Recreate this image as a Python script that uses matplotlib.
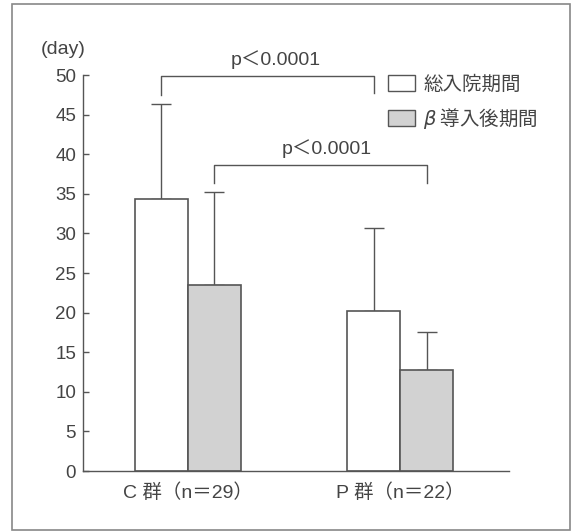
import matplotlib
matplotlib.use("Agg")
import matplotlib.pyplot as plt
from matplotlib.patches import Patch, Rectangle
import numpy as np

plt.rcParams['font.family'] = ['Liberation Sans', 'Noto Sans CJK JP', 'DejaVu Sans']

# data
groups = ['C 群（n＝29）', 'P 群（n＝22）']
series = ['総入院期間', '$\\mathit{\\beta}$ 導入後期間']
means = {
    '総入院期間': [34.3, 20.2],
    'β導入後期間': [23.5, 12.7],
}
upper_sd = {
    '総入院期間': [12.0, 10.5],
    'β導入後期間': [11.7, 4.8],
}
yticks = [0, 5, 10, 15, 20, 25, 30, 35, 40, 45, 50]
p_text = 'p＜0.0001'

line_c = '#555555'
text_c = '#444444'
fills = ['white', '#d2d2d2']

W, H = 572, 532
fig = plt.figure(figsize=(W / 100, H / 100), dpi=100)
ax = fig.add_axes([83 / W, 1 - 471 / H, (509 - 83) / W, (471 - 75) / H])

x = np.arange(len(groups))
width = 0.25
offsets = [-width / 2, width / 2]

centers = []
for key, fc, off in zip(means, fills, offsets):
    xs = x + off
    centers.append(xs)
    ax.bar(xs, means[key], width=width, color=fc, edgecolor=line_c,
           linewidth=1.2, zorder=2)
    ax.errorbar(xs, means[key], yerr=[np.zeros(len(xs)), upper_sd[key]],
                fmt='none', ecolor=line_c, elinewidth=1.0, capsize=7,
                capthick=1.0, zorder=1)

# significance brackets
def bracket(x0, x1, y, y0, y1, label, dx=0.0):
    ax.plot([x0, x0, x1, x1], [y0, y, y, y1], color=line_c, lw=1.0,
            clip_on=False)
    ax.text((x0 + x1) / 2 + dx, y + 0.9, label, ha='center', va='bottom',
            fontsize=14, color=text_c)

wc, gc = centers
bracket(wc[0], wc[1], 49.9, 47.5, 47.7, p_text, dx=0.04)
bracket(gc[0], gc[1], 38.6, 36.4, 36.4, p_text, dx=0.03)

ax.set_xlim(-0.495, 1.514)
ax.set_ylim(0, 50)
ax.set_xticks(x)
ax.set_xticklabels(groups, fontsize=14, color=text_c)
ax.set_yticks(yticks)
ax.tick_params(axis='y', direction='in', length=4.5, width=1.0,
               colors=line_c, labelcolor=text_c, labelsize=13.5, pad=5)
ax.tick_params(axis='x', length=0, pad=9)
for side in ['top', 'right']:
    ax.spines[side].set_visible(False)
for side in ['left', 'bottom']:
    ax.spines[side].set_color(line_c)
    ax.spines[side].set_linewidth(1.0)

fig.text(63 / W, 1 - 49 / H, '(day)', ha='center', va='center',
         fontsize=14, color=text_c)

handles = [Patch(facecolor=fc, edgecolor=line_c, linewidth=1.0)
           for fc in fills]
ax.legend(handles, series, loc='upper left',
          bbox_to_anchor=(388 / W, 1 - 74 / H), bbox_transform=fig.transFigure,
          frameon=False, borderpad=0, borderaxespad=0,
          prop={'family': 'Noto Sans CJK JP', 'size': 14},
          handlelength=1.4, handleheight=0.9, handletextpad=0.4,
          labelspacing=0.55, labelcolor=text_c)

# outer frame of the figure panel
fig.patches.append(Rectangle((12 / W, 1 - 530 / H), (570 - 12) / W,
                             (530 - 4) / H, transform=fig.transFigure,
                             fill=False, edgecolor='#888888', lw=1.2))

fig.savefig('out.png', dpi=100)
